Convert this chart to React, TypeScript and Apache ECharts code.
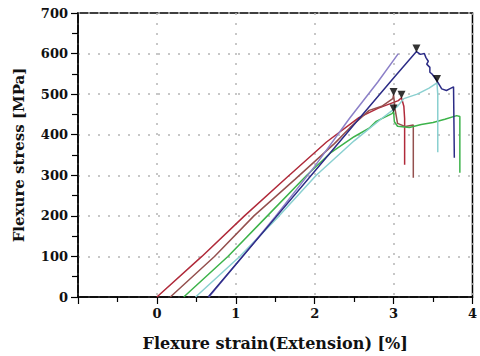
import React, { useEffect, useRef } from "react";
import * as echarts from "echarts";

const xTicks = [-1, 0, 1, 2, 3, 4];
const yTicks = [0, 100, 200, 300, 400, 500, 600, 700];

const crimson = [[0,0],[0.57,100],[1.11,200],[1.65,295],[2.15,382],[2.56,442],[2.8,465],[3.06,484],[3.1,491],[3.13,470],[3.14,440],[3.14,326]];
const maroon = [[0.17,0],[0.73,100],[1.23,200],[1.75,290],[2.25,378],[2.45,418],[2.69,460],[2.85,470],[2.99,489],[3.0,498],[3.02,462],[3.05,428],[3.15,420],[3.25,424],[3.25,294]];
const green = [[0.34,0],[0.9,100],[1.4,200],[1.9,300],[2.2,355],[2.5,395],[2.69,416],[2.78,433],[2.98,452],[3.0,457],[3.01,432],[3.05,421],[3.2,418],[3.35,425],[3.5,430],[3.65,438],[3.8,447],[3.84,445],[3.84,306]];
const teal = [[0.49,0],[1.05,100],[1.55,200],[2.02,300],[2.5,385],[2.85,440],[3.05,470],[3.13,489],[3.3,500],[3.45,515],[3.55,528],[3.56,500],[3.56,357]];
const lavender = [[0.66,0],[1.0,80],[1.5,198],[2.0,322],[2.44,440],[2.8,530],[3.06,600]];
const navy = [[0.65,0],[1.0,80],[1.5,195],[2.0,310],[2.5,425],[3.0,540],[3.29,605],[3.34,598],[3.39,600],[3.41,590],[3.44,581],[3.42,574],[3.46,566],[3.46,554],[3.49,549],[3.55,533],[3.61,513],[3.67,509],[3.71,513],[3.76,518],[3.77,343]];
const peaks = [[3.29,605],[3.55,530],[3.0,498],[3.1,491],[3.0,457]];

const curves = [
  { name: "A", data: crimson, color: "#b02a3a" },
  { name: "B", data: maroon, color: "#94504e" },
  { name: "C", data: green, color: "#3cb34a" },
  { name: "D", data: teal, color: "#8ad0d0" },
  { name: "E", data: lavender, color: "#8c80c8" },
  { name: "F", data: navy, color: "#2c2c86" },
];

const font = "DejaVu Serif";

export default function App() {
  const ref = useRef<HTMLDivElement>(null);
  useEffect(() => {
    if (!ref.current) return;
    const chart = echarts.init(ref.current, null, { renderer: "svg" });
    const grid = { color: "#b5b5b5", type: [2, 8] as any, width: 1.5 };
    chart.setOption({
      animation: false,
      backgroundColor: "#fff",
      grid: { left: 78, right: 3, top: 13, bottom: 55, show: true, borderColor: "#000", borderWidth: 1.5 },
      xAxis: {
        type: "value",
        min: xTicks[0],
        max: xTicks[xTicks.length - 1],
        interval: 1,
        name: "Flexure strain(Extension) [%]",
        nameLocation: "middle",
        nameGap: 38,
        nameTextStyle: { fontFamily: font, fontWeight: "bold", fontSize: 16, color: "#111" },
        axisLine: { onZero: false, lineStyle: { color: "#000", width: 1.5 } },
        axisTick: { length: 7, lineStyle: { color: "#000", width: 1.2 } },
        minorTick: { show: true, splitNumber: 2, length: 5, lineStyle: { color: "#000", width: 1.2 } },
        axisLabel: {
          margin: 10,
          fontFamily: font, fontWeight: "bold", fontSize: 13, color: "#111",
          formatter: (v: number) => (v < 0 ? "" : String(v)),
        },
        splitLine: { show: true, lineStyle: grid },
      },
      yAxis: {
        type: "value",
        min: yTicks[0],
        max: yTicks[yTicks.length - 1],
        interval: 100,
        name: "Flexure stress [MPa]",
        nameLocation: "middle",
        nameGap: 52,
        nameTextStyle: { fontFamily: font, fontWeight: "bold", fontSize: 15, color: "#111" },
        axisLine: { show: true, onZero: false, lineStyle: { color: "#000", width: 1.5 } },
        axisTick: { show: true, length: 7, lineStyle: { color: "#000", width: 1.2 } },
        minorTick: { show: true, splitNumber: 2, length: 6, lineStyle: { color: "#000", width: 1.2 } },
        axisLabel: { margin: 10, fontFamily: font, fontWeight: "bold", fontSize: 13, color: "#111" },
        splitLine: { show: true, lineStyle: grid },
      },
      series: [
        ...curves.map((c) => ({
          name: c.name,
          type: "line",
          data: c.data,
          showSymbol: false,
          lineStyle: { color: c.color, width: 1.5 },
          itemStyle: { color: c.color },
        })),
        {
          name: "peaks",
          type: "scatter",
          data: peaks,
          symbol: "triangle",
          symbolRotate: 180,
          symbolSize: [8, 8],
          symbolOffset: [0, -3],
          itemStyle: { color: "#000" },
          z: 5,
        },
      ],
    });
    return () => chart.dispose();
  }, []);
  return <div ref={ref} style={{ position: "fixed", left: 0, top: 0, width: 480, height: 356 }} />;
}
